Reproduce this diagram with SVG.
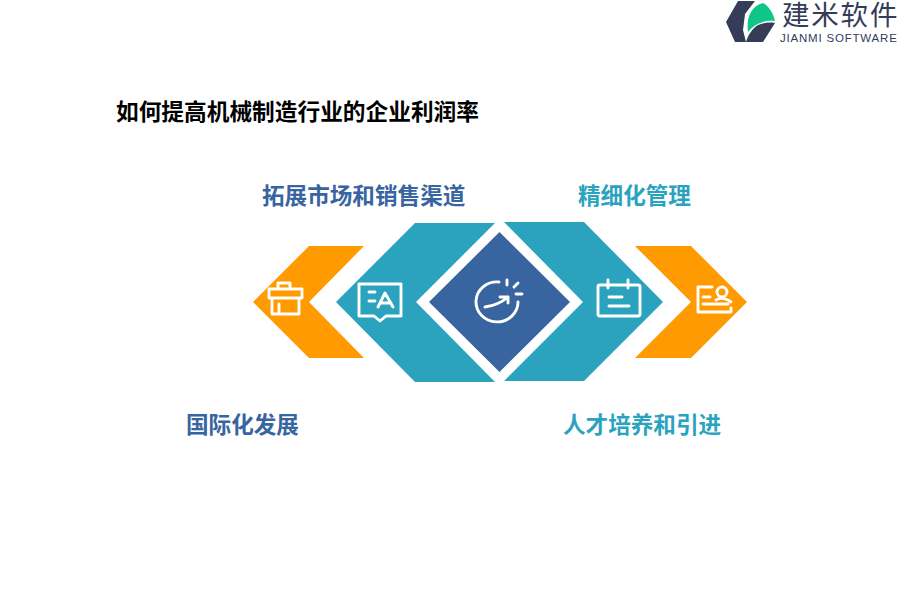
<svg xmlns="http://www.w3.org/2000/svg" width="900" height="600" viewBox="0 0 900 600">
<style>
.t{font-family:"Noto Sans CJK SC","Liberation Sans",sans-serif;font-weight:700;font-size:22.6px}
.i{fill:none;stroke:#fff;stroke-width:2.9;stroke-linecap:round;stroke-linejoin:round}
.o{fill:#ff9a00}.c{fill:#2ba3bf}.b{fill:#38659f}
</style>
<rect width="900" height="600" fill="#fff"/>
<g id="logo">
<path d="M738 1H755L745 14L743 30L746 42H735L726 22Z" fill="#343c58"/>
<path d="M748 32C746 18 751 6 763 3C769 6 773 13 775 21C764 20 754 24 748 32Z" fill="#0fc587"/>
<path d="M775 23L763 42H746C748 35 752 29 758 25C763 23 769 22 775 23Z" fill="#343c58"/>
<text x="782" y="25" font-family="'Noto Sans CJK SC',sans-serif" font-size="27.500" letter-spacing="1.800" fill="#343c58">建米软件</text>
<text x="780" y="42" font-family="'Liberation Sans',sans-serif" font-size="11.500" letter-spacing="0.800" fill="#343c58">JIANMI SOFTWARE</text>
</g>
<text id="title" x="116" y="119.500" font-family="'Noto Sans CJK SC',sans-serif" font-weight="700" font-size="22.700" fill="#000">如何提高机械制造行业的企业利润率</text>
<g id="node-left-orange">
<path class="o" d="M253 302L309 246H364L309 302L364 358H309Z"/>
<path class="i" d="M269 289H302V298H269ZM278 289V283H290V289M272 298V314H299V298M279 304V314"/>
<text class="t" x="186" y="433" fill="#38659f">国际化发展</text>
</g>
<g id="node-left-teal">
<path class="c" d="M336 302L415 223H495L416 302L495 382H415Z"/>
<path class="i" d="M359 284H401V316H386L380 321L374 316H359ZM369 292H375M369 301H375M378 307L385 293L393 307M380 303H391"/>
<text class="t" x="262" y="204" fill="#38659f">拓展市场和销售渠道</text>
</g>
<g id="node-center">
<path class="b" d="M429 302L499.500 232L570 302L499.500 372Z"/>
<path class="i" d="M499 282A21 20 0 1 0 518 302M485 307C493 306 501 303 508 297M500 297H508V303M507 280V285M518 283L514 287M516 294H522"/>
</g>
<g id="node-right-teal">
<path class="c" d="M504 222H584L663 302L584 381H504L583 302Z"/>
<path class="i" d="M600 285H638Q640 285 640 287V314Q640 316 638 316H600Q598 316 598 314V287Q598 285 600 285ZM608 280V288M628 280V288M609 297H622M609 306H629"/>
<text class="t" x="578" y="204" fill="#2ba3bf">精细化管理</text>
</g>
<g id="node-right-orange">
<path class="o" d="M635 246H691L747 302L691 358H635L691 302Z"/>
<path class="i" d="M712 287H698V312H731V308M703 297H710M703 304H728M727 292A5 5 0 1 1 717 292A5 5 0 1 1 727 292M716 300Q723 296 731 302"/>
<text class="t" x="563" y="433" fill="#2ba3bf">人才培养和引进</text>
</g>
</svg>
